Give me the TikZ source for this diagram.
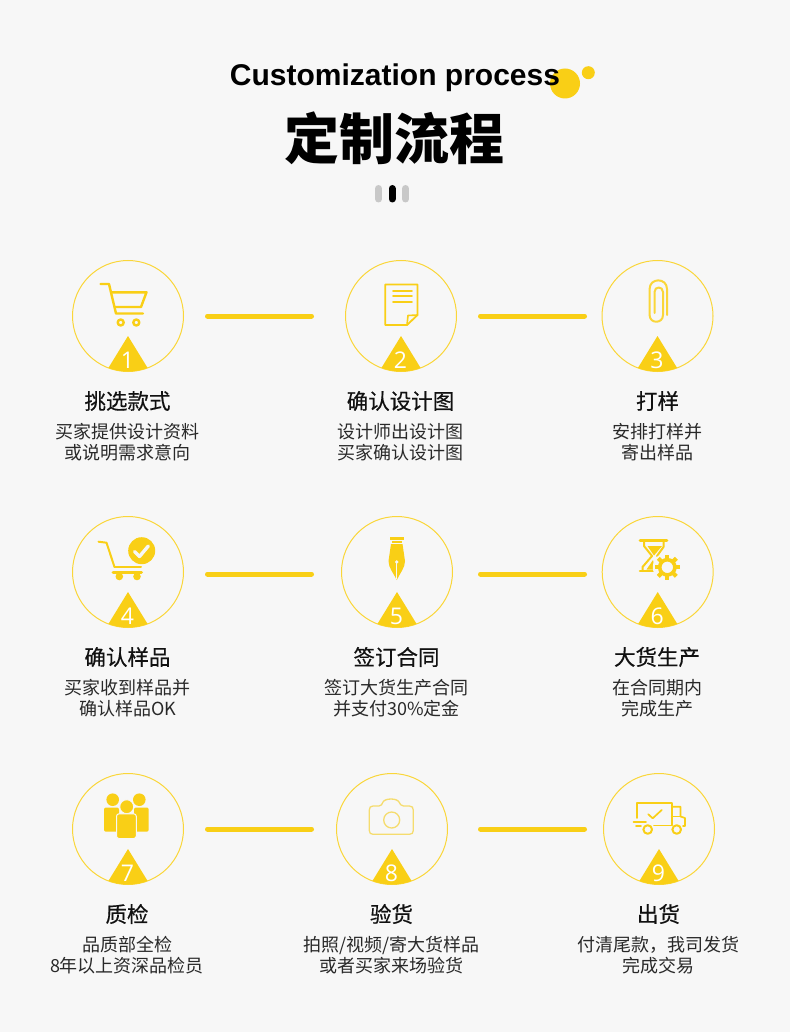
\documentclass[tikz,border=0pt]{standalone}
\usepackage{fontspec}
\setmainfont{Noto Sans CJK SC}
\newfontfamily\digitfont{Open Sans}
\newfontfamily\latinbold[BoldFont={Liberation Sans Bold}]{Liberation Sans}
\newfontfamily\headfont[FakeBold=0.45]{Noto Sans CJK SC}
\definecolor{bgc}{HTML}{F7F7F7}
\definecolor{ylw}{HTML}{F9CF16}
\definecolor{ylwl}{HTML}{F5DC6E}
\definecolor{ink}{HTML}{111111}
\definecolor{pillgrey}{HTML}{C8C8C8}
\tikzset{
  ring/.style={circle,draw=ylw!85!white,line width=1pt,minimum size=111pt,inner sep=0pt,outer sep=0pt},
  link/.style={draw=ylw,line width=5pt,line cap=round},
  digit/.style={text=white,font=\digitfont\fontsize{23}{23}\selectfont,inner sep=0pt},
  headtext/.style={text=ink,font=\headfont\fontsize{21.5}{24}\selectfont,inner sep=0pt},
  subtext/.style={text=ink!90!white,font=\fontsize{18}{20.5}\selectfont,align=center,inner sep=0pt},
  icon/.style={draw=ylw,line width=2.4pt,line cap=round,line join=round,fill=none},
  iconthin/.style={draw=ylwl,line width=1.3pt,line cap=round,line join=round,fill=none},
  pill/.style={line width=7pt,line cap=round}
}
\newcommand{\stepmark}[4]{%
  \node[ring] (c#1) at (#2,#3) {};
  \begin{scope}
    \clip (#2,#3) circle (55.5pt);
    \fill[ylw] (#2,#3+20) -- (#2+27,#3+64) -- (#2-27,#3+64) -- cycle;
  \end{scope}
  \node[digit] (d#1) at (#2-0.5,#3+44) {#4};
}
\newcommand{\steptext}[6]{%
  \node[headtext] (h#1) at (#2,#3) {#4};
  \node[subtext] (s#1) at (#2,#3+41) {#5\\#6};
}
\begin{document}
\begin{tikzpicture}[x=1pt,y=-1pt]
\useasboundingbox (0,0) rectangle (790,1032);
\fill[bgc] (0,0) rectangle (790,1032);

% title
\fill[ylw] (565,83.5) circle (15pt);
\fill[ylw] (588.3,72.7) circle (6.5pt);
\node[text=black,inner sep=0pt,font=\latinbold\bfseries\fontsize{30}{32}\selectfont] (en) at (395,78) {Customization process};
\node[text=black,inner sep=0pt,font=\bfseries\fontsize{55}{60}\selectfont] (zh) at (394.5,138) {定制流程};
\draw[pill,pillgrey] (378.5,188.5) -- (378.5,199);
\draw[pill,black] (392,188.5) -- (392,199);
\draw[pill,pillgrey] (405.5,188.5) -- (405.5,199);

% circles
\stepmark{1}{128}{316}{1}
\stepmark{2}{401}{316}{2}
\stepmark{3}{657.5}{316}{3}
\stepmark{4}{128}{572}{4}
\stepmark{5}{397}{572}{5}
\stepmark{6}{657.7}{572}{6}
\stepmark{7}{128}{829}{7}
\stepmark{8}{392}{829}{8}
\stepmark{9}{659}{829}{9}

% connectors
\draw[link] ([xshift=24pt]c1.east) -- ([xshift=-34pt]c2.west);
\draw[link] ([xshift=24pt]c2.east) -- ([xshift=-17.5pt]c3.west);
\draw[link] ([xshift=24pt,yshift=-2pt]c4.east) -- ([xshift=-30pt,yshift=-2pt]c5.west);
\draw[link] ([xshift=28pt,yshift=-2pt]c5.east) -- ([xshift=-17.7pt,yshift=-2pt]c6.west);
\draw[link] ([xshift=24pt]c7.east) -- ([xshift=-25pt]c8.west);
\draw[link] ([xshift=33pt]c8.east) -- ([xshift=-19pt]c9.west);

% icon 1: cart
\draw[icon] (100.5,284) -- (109,284) -- (116,313.5) -- (143,313.5);
\draw[icon] (111.5,292.3) -- (146.5,292.3) -- (141,307) -- (115,307);
\draw[icon] (120.7,322.5) circle (3pt);
\draw[icon] (136.3,322.5) circle (3pt);

% icon 2: document
\draw[icon,line width=1.8pt] (417.5,315) -- (417.5,284.5) -- (385.3,284.5) -- (385.3,325) -- (407,325) -- cycle;
\draw[icon,line width=1.6pt] (407,325) -- (408,315.5) -- (417.5,315);
\draw[icon,line width=1.9pt] (393,290.8) -- (412,290.8);
\draw[icon,line width=1.9pt] (393,296.3) -- (412,296.3);
\draw[icon,line width=1.9pt] (393,302) -- (412,302);

% icon 3: paper clip
\draw[icon,line width=2pt,draw=ylw!85!white] (667,315) -- (667,289) .. controls (667,277.5) and (649.6,277.5) .. (649.6,289) -- (649.6,315) .. controls (649.6,324) and (663,324) .. (663,315) -- (663,292) .. controls (663,286) and (654.5,286) .. (654.5,292) -- (654.5,313);

% icon 4: cart with check
\draw[icon,line width=2pt] (98.5,541.7) -- (106.5,542.7) -- (114.5,567);
\draw[icon,line width=2pt] (114.5,567) -- (141,567);
\draw[icon,line width=3pt] (113,572) -- (141.5,572);
\fill[ylw] (119.3,576.5) circle (3.8pt);
\fill[ylw] (137,576.5) circle (3.8pt);
\fill[ylw] (141.7,550.7) circle (13.5pt);
\draw[draw=bgc,line width=3.4pt,line cap=round,line join=round] (134.5,551.5) -- (139.5,556.5) -- (148.3,546);

% icon 5: fountain pen nib
\fill[ylw] (390,537) rectangle (403.5,539.5);
\fill[ylw] (391.5,540.5) rectangle (402,543);
\fill[ylw] (391,544) -- (402.5,544) -- (405,561) .. controls (405,568) and (400,573) .. (396.8,580) .. controls (393.5,573) and (388.5,568) .. (388.5,561) -- cycle;
\fill[bgc] (396.8,562) circle (1.9pt);
\draw[bgc,line width=0.8pt] (396.8,563) -- (396.8,579);

% icon 6: hourglass and gear
\draw[icon,line width=2.6pt] (640,540.7) -- (667,540.7);
\draw[icon,line width=2.6pt] (640,571) -- (657,571);
\draw[icon,line width=2pt] (644,541) -- (644,546) -- (652,556) -- (642.5,567) -- (642.5,571);
\draw[icon,line width=2pt] (663.5,541) -- (663.5,547) -- (657,556);
\fill[ylw] (647.5,546) -- (662,546) -- (654,555.5) -- cycle;
\fill[ylw] (646.5,569.5) -- (653,560) -- (655,569.5) -- cycle;
\fill[bgc] (667.3,567.3) circle (14.5pt);
\foreach \a in {0,45,...,315}{
  \fill[ylw,rotate around={\a:(667.3,567.3)}] (665.2,554.5) rectangle (669.4,559);
}
\draw[draw=ylw,line width=3.6pt,fill=bgc] (667.3,567.3) circle (7.6pt);

% icon 7: people
\fill[ylw] (112.7,799.7) circle (6.3pt);
\fill[ylw] (139.3,799.7) circle (6.3pt);
\fill[ylw,rounded corners=2pt] (104,807.5) rectangle (119,831.7);
\fill[ylw,rounded corners=2pt] (134,807.5) rectangle (148.7,831.7);
\draw[fill=ylw,draw=bgc,line width=1pt] (126.7,806.7) circle (7pt);
\draw[fill=ylw,draw=bgc,line width=1pt,rounded corners=2.5pt] (116.5,813.8) rectangle (136.3,838.5);

% icon 8: camera
\draw[iconthin] (373,806) -- (379,806) .. controls (381.5,806) and (382,804) .. (383,802) .. controls (385,798) and (397,798) .. (399,802) .. controls (400,804) and (401,806) .. (403.5,806) -- (409.5,806) .. controls (412,806) and (413.3,807.5) .. (413.3,810) -- (413.3,830.5) .. controls (413.3,833) and (412,834.3) .. (409.5,834.3) -- (373,834.3) .. controls (370.5,834.3) and (369.3,833) .. (369.3,830.5) -- (369.3,810) .. controls (369.3,807.5) and (370.5,806) .. (373,806) -- cycle;
\draw[iconthin] (391.7,820) circle (8pt);

% icon 9: truck
\draw[icon,line width=1.7pt] (636.8,818) -- (636.8,803) -- (671.7,803) -- (671.7,825.5) -- (654,825.5);
\draw[icon,line width=1.7pt] (671.7,806.7) -- (680.5,806.7) -- (680.5,816.5) -- (685,818) -- (685,826) -- (683,826);
\draw[icon,line width=1.7pt] (671.7,816.5) -- (680.5,816.5);
\draw[icon,line width=1.7pt] (633.5,822.3) -- (646,822.3);
\draw[icon,line width=1.7pt] (636,826) -- (641,826);
\draw[icon,line width=1.7pt] (648.3,814.3) -- (652.7,818.3) -- (661.7,810);
\draw[icon,line width=2pt,fill=bgc] (647.7,829.5) circle (4.3pt);
\draw[icon,line width=2pt,fill=bgc] (676.7,829.5) circle (4.3pt);

% texts
\steptext{1}{127.5}{401}{挑选款式}{买家提供设计资料}{或说明需求意向}
\steptext{2}{400.5}{401}{确认设计图}{设计师出设计图}{买家确认设计图}
\steptext{3}{657.5}{401}{打样}{安排打样并}{寄出样品}
\steptext{4}{127.5}{657}{确认样品}{买家收到样品并}{确认样品OK}
\steptext{5}{396.5}{657}{签订合同}{签订大货生产合同}{并支付30\%定金}
\steptext{6}{657}{657}{大货生产}{在合同期内}{完成生产}
\steptext{7}{127}{914}{质检}{品质部全检}{8年以上资深品检员}
\steptext{8}{391.5}{914}{验货}{拍照/视频/寄大货样品}{或者买家来场验货}
\steptext{9}{658.5}{914}{出货}{付清尾款，我司发货}{完成交易}
\end{tikzpicture}
\end{document}
